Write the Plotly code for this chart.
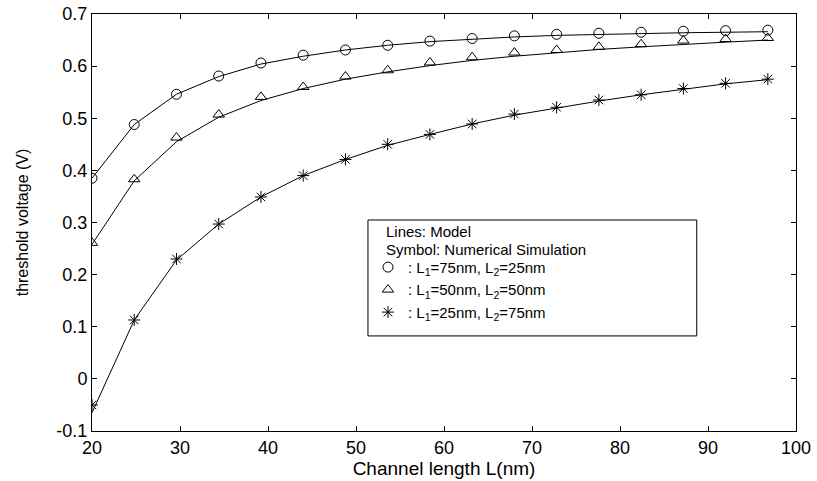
import plotly.graph_objects as go

# Channel length (nm)
L_nm = [20, 24.8, 29.6, 34.4, 39.2, 44, 48.8, 53.6, 58.4, 63.2, 68, 72.8, 77.6, 82.4, 87.2, 92, 96.8]

# Numerical simulation (symbols)
sim_75_25 = [0.385, 0.488, 0.546, 0.581, 0.606, 0.621, 0.631, 0.640, 0.648, 0.653, 0.658, 0.661, 0.663, 0.665, 0.667, 0.668, 0.669]
sim_50_50 = [0.261, 0.383, 0.463, 0.507, 0.541, 0.560, 0.580, 0.592, 0.607, 0.617, 0.626, 0.631, 0.637, 0.642, 0.649, 0.652, 0.654]
sim_25_75 = [-0.050, 0.113, 0.230, 0.297, 0.349, 0.390, 0.421, 0.450, 0.469, 0.489, 0.508, 0.521, 0.535, 0.545, 0.557, 0.567, 0.575]

# Model (lines)
mod_75_25 = [0.385, 0.488, 0.546, 0.580, 0.604, 0.619, 0.631, 0.640, 0.647, 0.652, 0.656, 0.659, 0.661, 0.663, 0.664, 0.665, 0.666]
mod_50_50 = [0.258, 0.380, 0.455, 0.502, 0.534, 0.557, 0.575, 0.589, 0.601, 0.611, 0.619, 0.626, 0.632, 0.637, 0.642, 0.646, 0.650]
mod_25_75 = [-0.065, 0.113, 0.228, 0.297, 0.349, 0.390, 0.421, 0.448, 0.469, 0.489, 0.506, 0.520, 0.533, 0.545, 0.556, 0.566, 0.574]

labels = [": L<sub>1</sub>=75nm, L<sub>2</sub>=25nm",
          ": L<sub>1</sub>=50nm, L<sub>2</sub>=50nm",
          ": L<sub>1</sub>=25nm, L<sub>2</sub>=75nm"]
symbols = ["circle-open", "triangle-up-open", "asterisk-open"]
sims = [sim_75_25, sim_50_50, sim_25_75]
mods = [mod_75_25, mod_50_50, mod_25_75]

x_ticks = [20, 30, 40, 50, 60, 70, 80, 90, 100]
y_ticks = [-0.1, 0, 0.1, 0.2, 0.3, 0.4, 0.5, 0.6, 0.7]
y_ticktext = ["-0.1", "0", "0.1", "0.2", "0.3", "0.4", "0.5", "0.6", "0.7"]

FONT = "Liberation Sans, Arial, sans-serif"

fig = go.Figure()
for m in mods:
    fig.add_trace(go.Scatter(x=L_nm, y=m, mode="lines", line=dict(color="black", width=1),
                             showlegend=False, hoverinfo="skip"))
for s, sym, lab in zip(sims, symbols, labels):
    fig.add_trace(go.Scatter(x=L_nm, y=s, mode="markers", name=lab,
                             marker=dict(symbol=sym, size=10, color="black",
                                         line=dict(color="black", width=1))))

# legend box
fig.add_shape(type="rect", xref="paper", yref="paper", x0=0.392, x1=0.859, y0=0.228, y1=0.506,
              line=dict(color="black", width=1), fillcolor="white", layer="below")
# legend header
fig.add_annotation(xref="paper", yref="paper", x=0.415, y=0.478, xanchor="left", yanchor="middle",
                   text="Lines: Model", showarrow=False, align="left",
                   font=dict(family=FONT, size=15, color="black"))
fig.add_annotation(xref="paper", yref="paper", x=0.415, y=0.436, xanchor="left", yanchor="middle",
                   text="Symbol: Numerical Simulation", showarrow=False, align="left",
                   font=dict(family=FONT, size=15, color="black"))

axis_common = dict(showline=True, linecolor="black", linewidth=1, mirror="ticks",
                   ticks="inside", ticklen=5, tickcolor="black", showgrid=False, zeroline=False,
                   automargin=False,
                   tickfont=dict(family=FONT, size=18, color="black"))

fig.update_layout(
    width=817, height=481,
    margin=dict(l=92, r=21, t=14, b=50),
    paper_bgcolor="white", plot_bgcolor="rgba(0,0,0,0)",
    font=dict(family=FONT, color="black"),
    xaxis=dict(range=[20, 100], tickvals=x_ticks, ticktext=[str(v) for v in x_ticks],
               title=dict(text="Channel length L(nm)", font=dict(family=FONT, size=19), standoff=2),
               **axis_common),
    yaxis=dict(range=[-0.1, 0.7], tickvals=y_ticks, ticktext=y_ticktext,
               title=dict(text="threshold voltage (V)", font=dict(family=FONT, size=16), standoff=23),
               **axis_common),
    legend=dict(x=0.392, y=0.432, xanchor="left", yanchor="top",
                bgcolor="rgba(0,0,0,0)", borderwidth=0,
                font=dict(family=FONT, size=15, color="black"),
                tracegroupgap=0, itemwidth=30),
    showlegend=True,
)

fig.write_html("out.html", config={"displayModeBar": False},
               post_script="document.body.style.margin='0';document.body.style.padding='0';")
